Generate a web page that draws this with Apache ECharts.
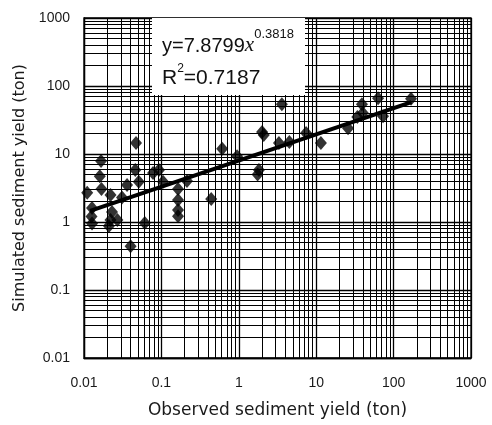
<!DOCTYPE html>
<html>
<head>
<meta charset="utf-8">
<script src="https://cdn.jsdelivr.net/npm/echarts@6/dist/echarts.min.js"></script>
<style>html,body{margin:0;padding:0;background:#fff;}#c{width:492px;height:425px;}</style>
</head>
<body>
<div id="c"></div>
<script>
// Observed (x) vs simulated (y) sediment yield, ton
const observed = [0.011,0.0127,0.0125,0.0127,0.0166,0.016,0.0168,0.022,0.023,0.022,0.021,0.027,0.031,0.036,0.047,0.046,0.051,0.040,0.061,0.078,0.093,0.105,0.164,0.164,0.164,0.164,0.214,0.44,0.61,0.95,2.1,2.0,1.82,1.75,3.6,3.3,4.5,7.4,11.5,25.8,34,39,40,63,73,168];
const simulated = [2.7,1.6,1.2,0.95,7.9,4.7,3.05,2.5,1.4,1.07,0.87,1.07,2.3,3.5,14.5,5.8,3.9,0.44,0.97,5.25,5.8,3.9,3.05,2.1,1.5,1.22,4.0,2.18,11.9,9.3,19,21,5.8,5.0,54,14.5,15,20.4,14.5,24,35,54,40,66,36,65];
// Trend line endpoints
const trendX = [0.012, 170];
const trendY = [1.46, 58];
const tickLabels = ['0.01','0.1','1','10','100','1000'];
const decades = [0.01, 0.1, 1, 10, 100];

const minorVals = [];
decades.forEach(d => { for (let k = 2; k <= 9; k++) minorVals.push(+(d * k).toPrecision(3)); });

const chart = echarts.init(document.getElementById('c'), null, {renderer: 'canvas'});
const fmt = v => { const s = +(+v).toPrecision(3); const t = String(s); return tickLabels.includes(t) ? t : ''; };
const axisCommon = {
  type: 'log', logBase: 10, min: 0.01, max: 1000,
  axisLine: {show: true, lineStyle: {color: '#000', width: 1.3}},
  axisTick: {show: false},
  splitLine: {show: true, lineStyle: {color: '#000', width: 1.3}},
  axisLabel: {color: '#1a1a1a', fontSize: 14, fontFamily: 'Liberation Sans', formatter: fmt}
};
const gl = {color: '#000', width: 1, type: 'solid'};
chart.setOption({
  animation: false,
  backgroundColor: '#fff',
  grid: {left: 84, right: 21, top: 18, bottom: 67, show: true, borderColor: '#000', borderWidth: 1.3},
  xAxis: Object.assign({}, axisCommon, {
    name: 'Observed sediment yield (ton)', nameLocation: 'middle', nameGap: 44,
    nameTextStyle: {color: '#1a1a1a', fontSize: 17, fontFamily: 'DejaVu Sans'},
    axisLabel: Object.assign({}, axisCommon.axisLabel, {margin: 18})
  }),
  yAxis: Object.assign({}, axisCommon, {
    name: 'Simulated sediment yield (ton)', nameLocation: 'middle', nameGap: 50,
    nameTextStyle: {color: '#1a1a1a', fontSize: 16, fontFamily: 'DejaVu Sans'},
    axisLabel: Object.assign({}, axisCommon.axisLabel, {margin: 14})
  }),
  graphic: [
    {type: 'rect', left: 152, top: 18, shape: {width: 153, height: 77}, style: {fill: '#fff'}, z: 50},
    {type: 'text', left: 162, top: 28, z: 60, style: {
      text: '{a|y=7.8799}{i|x}{s|0.3818}',
      rich: {
        a: {fontSize: 20, fontFamily: 'Liberation Sans', fill: '#111', lineHeight: 28, verticalAlign: 'bottom'},
        i: {fontSize: 21, fontFamily: 'Liberation Serif', fontStyle: 'italic', fill: '#111', lineHeight: 28, verticalAlign: 'bottom'},
        s: {fontSize: 13, fontFamily: 'Liberation Sans', fill: '#111', lineHeight: 28, verticalAlign: 'top'}
      }
    }},
    {type: 'text', left: 162, top: 63, z: 60, style: {
      text: '{a|R}{s|2}{a|=0.7187}',
      rich: {
        a: {fontSize: 21, fontFamily: 'Liberation Sans', fill: '#111', lineHeight: 26, verticalAlign: 'bottom'},
        s: {fontSize: 12, fontFamily: 'Liberation Sans', fill: '#111', lineHeight: 26, verticalAlign: 'top'}
      }
    }}
  ],
  series: [
    {
      type: 'line', silent: true, symbol: 'none', data: [],
      markLine: {
        silent: true, symbol: 'none', label: {show: false}, animation: false,
        lineStyle: gl,
        data: minorVals.map(v => ({xAxis: v})).concat(minorVals.map(v => ({yAxis: v})))
      }
    },
    {
      type: 'line', symbol: 'none', z: 5,
      lineStyle: {color: '#000', width: 4},
      data: trendX.map((x, i) => [x, trendY[i]])
    },
    {
      type: 'scatter', symbol: 'diamond', symbolSize: [12, 14], z: 6,
      itemStyle: {color: '#000'},
      data: observed.map((x, i) => [x, simulated[i]])
    }
  ]
});
</script>
</body>
</html>
